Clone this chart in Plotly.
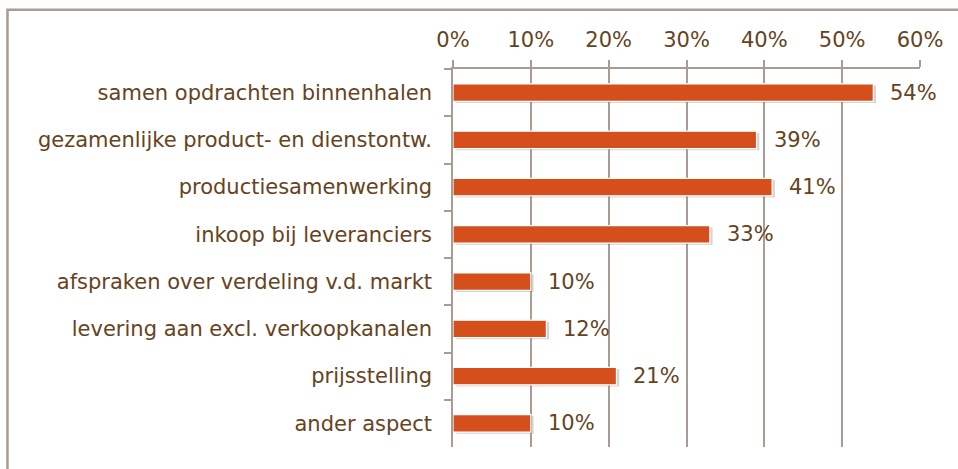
import plotly.graph_objects as go

# data
categorieen = [
    "samen opdrachten binnenhalen",
    "gezamenlijke product- en dienstontw.",
    "productiesamenwerking",
    "inkoop bij leveranciers",
    "afspraken over verdeling v.d. markt",
    "levering aan excl. verkoopkanalen",
    "prijsstelling",
    "ander aspect",
]
percentages = [54, 39, 41, 33, 10, 12, 21, 10]
x_ticks = [0, 10, 20, 30, 40, 50, 60]
x_ticklabels = ["0%", "10%", "20%", "30%", "40%", "50%", "60%"]

tekstkleur = "#664321"
lijnkleur = "#A89C95"
balkkleur = "#D44F1B"
lettertype = "Verdana, DejaVu Sans, sans-serif"

fig = go.Figure()

# schaduw onder de balken
fig.add_trace(go.Bar(
    y=categorieen, x=percentages, base=0.35, orientation="h",
    width=0.37, offset=-0.15,
    marker=dict(color="rgba(90,80,70,0.25)", line=dict(width=0)),
    hoverinfo="skip", showlegend=False,
))
fig.add_trace(go.Bar(
    y=categorieen, x=percentages, orientation="h",
    width=0.37, offset=-0.185,
    marker=dict(color=balkkleur, line=dict(color="white", width=1.2)),
    showlegend=False,
))

for cat, v in zip(categorieen, percentages):
    fig.add_annotation(
        x=v, y=cat, text=f"{v}%", showarrow=False,
        xanchor="left", yanchor="middle", xshift=15,
        font=dict(size=21, color=tekstkleur, family=lettertype),
    )

# kader om de grafiek
fig.add_shape(
    type="rect", xref="paper", yref="paper",
    x0=-0.954, x1=1.3, y0=-0.3, y1=1.157,
    line=dict(color=lijnkleur, width=2.5), layer="below",
)

fig.update_layout(
    width=958, height=469,
    margin=dict(l=453, r=38, t=69, b=22),
    paper_bgcolor="white", plot_bgcolor="white",
    barmode="overlay",
    font=dict(family=lettertype, size=21, color=tekstkleur),
    xaxis=dict(
        side="top", range=[0, 60], tickvals=x_ticks, ticktext=x_ticklabels,
        showgrid=True, gridcolor=lijnkleur, gridwidth=1.5,
        showline=True, linecolor=lijnkleur, linewidth=1.5,
        ticks="outside", ticklen=7, tickcolor=lijnkleur, tickwidth=1.5,
        ticklabelstandoff=5,
        zeroline=False, tickfont=dict(size=21, color=tekstkleur),
    ),
    yaxis=dict(
        autorange="reversed", showgrid=False,
        showline=True, linecolor=lijnkleur, linewidth=1.5,
        ticks="outside", ticklen=7, tickcolor=lijnkleur, tickwidth=1.5,
        tickson="boundaries", ticklabelstandoff=15,
        tickfont=dict(size=21, color=tekstkleur),
    ),
)

fig.write_html(
    "out.html",
    config={"displayModeBar": False},
    post_script="document.body.style.margin='0';",
)
